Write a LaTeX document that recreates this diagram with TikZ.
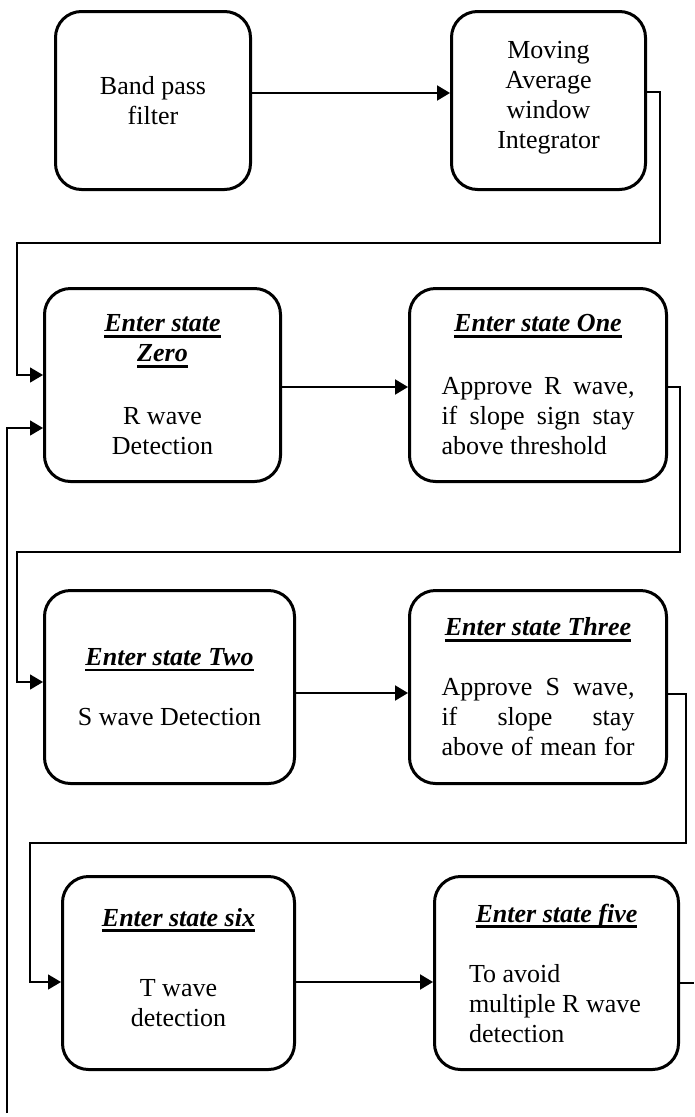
\documentclass[tikz,border=0pt]{standalone}
\usepackage{fontspec}
\setmainfont{Liberation Serif}
\usetikzlibrary{arrows.meta}
\newcommand\hdr[1]{\setbox0=\hbox{\bfseries\itshape #1}\leavevmode\rlap{\rule[-6pt]{\wd0}{2.6pt}}\box0}
\newcommand\jline[1]{\hbox to 193pt{#1}}
\newcommand\lline[1]{\hbox to 175pt{#1\hfill}}
\begin{document}
\begin{tikzpicture}[x=1pt,y=-1pt,
  box/.style={draw, line width=3pt, rounded corners=26pt, anchor=north west,
    inner sep=0pt, align=center, font=\fontsize{26}{30}\selectfont},
  tip/.style={-{Triangle[length=13pt,width=15pt]}},
  arr/.style={line width=2pt, tip},
  route/.style={line width=1.4pt}]
\useasboundingbox (0,0) rectangle (694,1117);
% boxes
\node[box, minimum width=195pt, minimum height=178pt] (b1) at (54,10) {Band pass\\filter};
\node[box, minimum width=194pt, minimum height=178pt, text depth=12pt] (b2) at (450,10) {Moving\\Average\\window\\Integrator};
\node[box, minimum width=236pt, minimum height=193pt] (b3) at (43,287)
  {\hdr{Enter state}\\\hdr{Zero}\\[33pt]R wave\\Detection};
\node[box, minimum width=257pt, minimum height=193pt] (b4) at (408,287)
  {\hdr{Enter state One}\\[33pt]\jline{Approve\hfill R\hfill wave,}\\\jline{if\hfill slope\hfill sign\hfill stay}\\\jline{above threshold\hfill}};
\node[box, minimum width=250pt, minimum height=193pt] (b5) at (43,589)
  {\hdr{Enter state Two}\\[30pt]S wave Detection};
\node[box, minimum width=257pt, minimum height=193pt] (b6) at (408,589)
  {\hdr{Enter state Three}\\[30pt]\jline{Approve\hfill S\hfill wave,}\\\jline{if\hfill slope\hfill stay}\\\jline{above\hfill of\hfill mean\hfill for}};
\node[box, minimum width=232pt, minimum height=193pt, text depth=12pt] (b7) at (61,875)
  {\hdr{Enter state six}\\[40pt]T wave\\detection};
\node[box, minimum width=244pt, minimum height=193pt] (b8) at (433,875)
  {\hdr{Enter state five}\\[30pt]\lline{To avoid}\\\lline{multiple R wave}\\\lline{detection}};
% free ends
\coordinate (outR) at (694,983);
\coordinate (fb) at (7,1113);
% row arrows
\draw[arr] (b1.east |- 0,93) -- (b2.west |- 0,93);
\draw[arr] (b3.east |- 0,387) -- (b4.west |- 0,387);
\draw[arr] (b5.east |- 0,693) -- (b6.west |- 0,693);
\draw[arr] (b7.east |- 0,982) -- (b8.west |- 0,982);
% routing
\draw[route, tip] (b2.east |- 0,92) -| (660,243) -| (17,375) -- (b3.west |- 0,375);
\draw[route, tip] (b4.east |- 0,387) -| (680,552) -| (17,682) -- (b5.west |- 0,682);
\draw[route, tip] (b6.east |- 0,694) -| (686,843) -| (30,982) -- (b7.west |- 0,982);
\draw[route] (b8.east |- 0,983) -- (outR);
\draw[route, tip] (fb) |- (b3.west |- 0,428);
\end{tikzpicture}
\end{document}
